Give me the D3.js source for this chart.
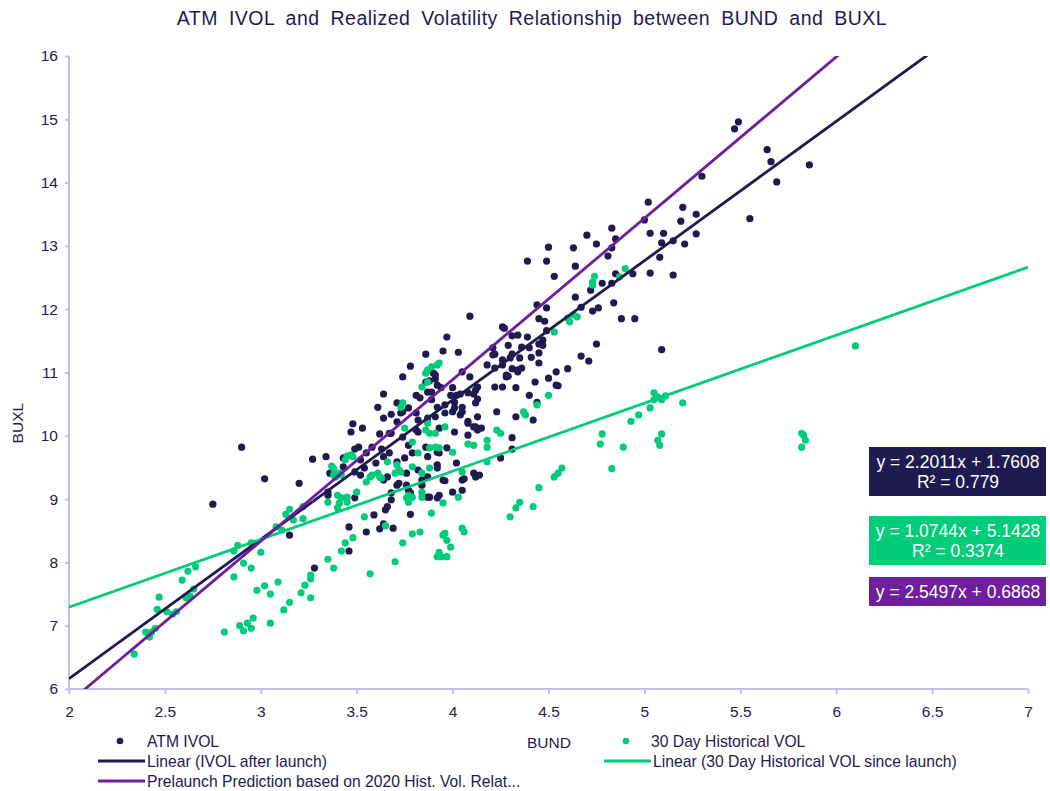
<!DOCTYPE html>
<html lang="en">
  <head>
    <meta charset="utf-8">
    <title>ATM IVOL and Realized Volatility Relationship between BUND and BUXL</title>
    <style>
      body { margin: 0; background: #fff; }
      text { font-family: "Liberation Sans", Arial, sans-serif; fill: #1f1a4f; }
      .axis path, .axis line { stroke: #c3bdf0; stroke-width: 2px; }
      .axis text { font-size: 15.5px; fill: #1f1a4f; }
    </style>
  </head>
  <body>
    <div class="chart" id="container"></div>

    <script src="https://cdn.jsdelivr.net/npm/d3@7/dist/d3.min.js"></script>
    <script type="text/javascript">
      // BUND vol (x) vs BUXL vol (y)
      var ivolPoints = [
        [2.90,9.82],[2.75,8.92],[3.02,9.32],[3.20,9.25],[3.27,9.63],[3.34,9.67],[3.15,8.43],[3.28,7.91],[3.36,9.41],[3.43,9.51],
        [3.48,10.19],[3.47,10.06],[3.53,10.12],[3.64,10.66],[3.61,10.45],[3.64,10.28],[3.68,10.34],[3.71,10.52],[3.71,10.22],[3.51,9.82],
        [3.49,9.79],[3.58,9.82],[3.63,9.79],[3.68,10.04],[3.52,9.62],[3.52,9.38],[3.66,9.35],[3.64,9.30],[3.71,9.22],[3.35,9.06],
        [3.49,9.02],[3.66,8.88],[3.68,9.10],[3.46,8.56],[3.46,8.18],[3.55,8.48],[3.59,8.75],[3.62,8.53],[3.64,8.61],[3.69,8.54],[3.78,8.76],
        [4.44,12.07],[4.49,12.02],[4.09,11.89],[4.45,11.85],[4.48,11.81],[4.26,11.72],[4.49,11.66],[4.34,11.59],[4.31,11.58],[4.39,11.56],
        [3.97,11.56],[4.21,11.39],[4.29,11.43],[4.45,11.45],[4.36,11.40],[4.31,11.29],[4.21,11.28],[4.03,11.32],[3.95,11.34],[3.86,11.29],
        [4.41,11.24],[4.35,11.23],[4.26,11.20],[4.26,11.12],[4.18,11.12],[4.45,11.15],[4.50,10.91],[4.43,10.85],[4.28,10.93],[4.22,11.07],
        [4.34,11.04],[4.31,11.06],[4.05,11.01],[4.09,10.93],[3.78,11.10],[3.74,10.93],[3.90,10.99],[3.91,10.90],[3.86,10.85],[3.94,10.76],
        [4.00,10.76],[4.02,10.64],[4.08,10.68],[4.12,10.72],[4.13,10.77],[4.22,10.77],[4.26,10.77],[4.33,10.76],[4.40,10.64],[4.44,10.53],
        [4.42,10.25],[4.33,10.30],[4.23,10.38],[4.13,10.30],[4.15,10.12],[4.13,10.09],[4.05,10.38],[4.01,10.44],[3.96,10.49],[3.92,10.45],
        [3.89,10.57],[3.83,10.60],[3.81,10.64],[3.73,10.36],[3.77,10.44],[3.82,10.25],[3.62,10.03],[3.67,10.04],[3.74,9.98],[3.82,10.06],
        [3.93,10.12],[4.01,10.06],[4.11,10.14],[4.08,10.01],[3.77,9.85],[3.86,9.82],[3.92,9.74],[3.93,9.73],[3.97,9.81],[4.25,9.65],
        [4.31,9.97],[3.79,9.73],[3.75,9.65],[3.87,9.67],[3.67,9.73],[3.64,9.67],[3.55,9.73],[3.43,9.65],[3.49,9.43],[3.54,9.49],
        [3.60,9.57],[3.71,9.59],[3.76,9.41],[3.82,9.46],[3.92,9.54],[4.02,9.57],[4.11,9.41],[4.12,9.35],[4.14,9.38],[4.05,9.30],
        [3.95,9.30],[3.84,9.30],[3.72,9.25],[3.76,9.22],[3.35,9.11],[3.78,9.10],[3.87,9.03],[3.92,9.02],[3.93,9.06],[4.00,9.11],
        [4.05,9.14],[3.68,8.99],[3.65,8.83],
        [4.08,10.20],[4.12,10.14],[4.31,9.79],[4.06,9.32],[3.96,9.29],[3.88,9.03],[3.84,9.22],[3.87,9.35],[3.92,9.49],[3.77,9.14],[3.81,10.09],
        [4.50,12.98],[4.39,12.76],[4.49,12.76],[4.53,12.52],[4.27,11.70],[4.22,11.29],[4.47,11.43],[4.45,11.31],[4.30,11.23],[4.40,11.39],
        [3.91,10.96],[3.92,10.80],[3.88,10.87],[3.87,10.69],[3.89,10.69],[4.04,10.66],[3.99,10.64],[4.01,10.53],[4.11,10.66],[4.29,10.94],
        [4.34,11.01],[4.36,11.07],[4.54,11.01],[4.54,10.80],[4.13,10.58],[4.08,10.23],[4.04,10.33],[4.00,10.38],[3.96,10.36],[3.91,10.30],
        [3.87,10.28],[3.81,10.36],[3.74,10.38],[4.05,10.45],[4.12,10.52],
        [5.49,14.96],[5.47,14.85],[5.64,14.52],[5.66,14.33],[5.69,14.01],[5.86,14.28],[5.55,13.43],[5.30,14.10],[5.02,13.69],[5.20,13.61],
        [5.19,13.39],[5.27,13.50],[5.00,13.41],[4.83,13.28],[4.85,13.11],[5.03,13.20],[5.10,13.20],[5.09,13.05],[5.15,13.08],[5.21,13.03],
        [5.27,13.19],[4.70,13.17],[4.75,13.03],[4.63,12.97],[4.83,12.97],[4.81,12.84],[4.64,12.68],[4.85,12.56],[4.94,12.56],[5.03,12.57],
        [5.08,12.82],[5.15,12.54],[4.78,12.41],[4.83,12.41],[4.72,12.30],[4.64,12.19],[4.67,12.03],[4.73,11.97],[4.76,12.02],[4.84,12.10],
        [4.88,11.85],[4.95,11.85],[5.09,11.36],[4.47,11.51],[4.75,11.45],[4.67,11.26],[4.71,11.18],[4.28,10.96],[4.60,11.06],[4.55,10.79]
      ];

      var histPoints = [
        [2.34,6.55],[2.40,6.90],[2.42,6.82],[2.45,6.96],[2.43,6.90],[2.46,7.26],[2.47,7.45],[2.51,7.22],[2.54,7.18],[2.56,7.22],
        [2.61,7.44],[2.63,7.47],[2.65,7.58],[2.59,7.72],[2.62,7.86],[2.66,7.93],[2.81,6.90],[2.86,7.77],[2.86,8.18],[2.88,8.27],
        [2.89,7.00],[2.91,6.92],[2.93,7.04],[2.95,6.96],[2.96,7.12],[2.95,7.91],[2.95,8.31],[3.00,8.16],[2.98,7.56],[3.02,7.63],
        [3.05,7.50],[3.05,7.04],[3.09,7.69],[3.12,7.25],[3.15,7.37],[3.08,8.56],[3.13,8.76],[3.15,8.84],[3.17,8.67],[3.22,8.88],
        [3.22,8.69],[3.21,7.52],[3.23,7.64],[3.26,7.80],[3.26,7.74],[3.26,7.44],[3.35,8.05],[3.38,7.91],[3.42,8.18],[3.44,8.31],
        [3.48,8.39],[3.50,9.11],[3.45,9.03],[3.40,8.86],[3.35,8.95],[3.45,8.95],[3.42,9.38],[3.38,9.48],[3.37,9.52],[3.45,9.68],
        [3.47,9.70],[3.44,9.62],[3.11,8.51],[2.91,7.99],[3.54,8.72],[3.57,7.82],[3.65,8.58],[3.70,8.01],[3.74,8.31],[3.79,8.45],
        [3.38,9.38],[3.41,9.41],[3.48,9.67],[3.61,9.41],[3.62,9.35],[3.58,9.38],[3.55,9.27],[3.66,9.59],[3.70,9.41],[3.71,9.54],
        [3.40,9.06],[3.41,8.94],
        [3.93,11.15],[3.92,11.12],[3.89,11.09],[3.87,11.04],[3.86,10.99],[3.87,10.85],[3.84,10.77],[3.74,10.52],[3.73,10.45],[3.75,10.12],
        [3.86,10.09],[3.88,10.04],[3.91,10.04],[3.96,10.14],[3.79,9.90],[3.88,9.81],[3.91,9.82],[3.93,9.81],[4.00,9.74],[4.08,9.87],
        [4.11,9.85],[4.18,9.93],[4.18,9.82],[4.23,10.09],[4.25,10.04],[4.37,10.38],[4.38,10.33],[4.44,10.49],[4.50,10.64],[3.39,9.35],
        [3.57,9.35],[3.63,9.33],[3.73,9.43],[3.79,9.51],[3.82,9.73],[3.84,9.41],[3.88,9.49],[4.05,9.43],[3.42,9.02],[3.76,9.02],
        [3.77,8.95],[3.79,9.03],[3.84,9.03],[3.95,8.94],[4.03,9.03],[3.89,8.78],[3.83,8.48],[3.96,8.46],[3.97,8.35],[3.99,8.24],
        [3.93,8.16],[3.92,8.09],[3.94,8.09],[3.97,8.09],[4.05,8.54],[4.06,8.48],[4.30,8.72],[4.33,8.86],[4.35,8.95],[4.42,8.88],
        [4.45,9.18],
        [4.57,9.49],[4.55,9.41],[4.53,9.35],[4.18,9.59],[3.72,9.46],[3.77,9.06],[3.84,9.11],[3.95,8.43],[3.87,10.20],[4.53,11.64],
        [4.90,12.64],[4.87,12.51],[4.74,12.52],[4.73,12.43],[4.73,12.38],[4.65,11.88],[4.61,11.80],[4.63,11.91],[4.60,11.86],[5.05,10.68],
        [5.07,10.61],[5.11,10.63],[5.05,10.57],[5.09,10.57],[5.20,10.52],[5.03,10.44],[4.97,10.33],[4.93,10.23],[4.78,10.03],[4.77,9.87],
        [4.89,9.82],[5.09,10.03],[5.07,9.93],[5.08,9.85],[5.82,10.04],[5.83,10.01],[5.84,9.93],[5.82,9.82],[6.10,11.42],[4.83,9.48]
      ];

      var seriesNames = ["ATM IVOL", "30 Day Historical VOL"];
      var trendNames = ["Linear (IVOL after launch)", "Linear (30 Day Historical VOL since launch)",
                        "Prelaunch Prediction based on 2020 Hist. Vol. Relat..."];
      var trendSlope = [2.2011, 1.0744, 2.5497];
      var trendIntercept = [1.7608, 5.1428, 0.6868];
      var trendLabels = [["y = 2.2011x + 1.7608", "R\u00b2 = 0.779"],
                         ["y = 1.0744x + 5.1428", "R\u00b2 = 0.3374"],
                         ["y = 2.5497x + 0.6868"]];
      var xTicks = [2, 2.5, 3, 3.5, 4, 4.5, 5, 5.5, 6, 6.5, 7];
      var yTicks = [6, 7, 8, 9, 10, 11, 12, 13, 14, 15, 16];

      var navy = "#1f1a4f", green = "#00cc7a", purple = "#6e1e9e";
      var trendColor = [navy, green, purple];

      var width = 1050, height = 791;
      var margin = {top: 56, right: 22, bottom: 102, left: 69};

      var svg = d3.select(".chart")
        .append("svg")
          .attr("width", width)
          .attr("height", height);

      var x = d3.scaleLinear().domain([2, 7]).range([margin.left, width - margin.right]);
      var y = d3.scaleLinear().domain([6, 16]).range([height - margin.bottom, margin.top]);

      svg.append("defs").append("clipPath").attr("id", "plot")
        .append("rect")
          .attr("x", x(2)).attr("y", y(16))
          .attr("width", x(7) - x(2)).attr("height", y(6) - y(16));

      svg.append("text")
        .attr("x", 532).attr("y", 25)
        .attr("text-anchor", "middle")
        .style("font-size", "19.5px")
        .style("letter-spacing", "0.5px")
        .style("word-spacing", "5px")
        .text("ATM IVOL and Realized Volatility Relationship between BUND and BUXL");

      svg.append("g")
        .attr("class", "axis")
        .attr("transform", "translate(0," + y(6) + ")")
        .call(d3.axisBottom(x).tickValues(xTicks).tickSize(5).tickPadding(12).tickFormat(d3.format("")));

      svg.append("g")
        .attr("class", "axis")
        .attr("transform", "translate(" + x(2) + ",0)")
        .call(d3.axisLeft(y).tickValues(yTicks).tickSize(4).tickPadding(7).tickFormat(d3.format("d")));

      svg.selectAll(".axis .domain").attr("d", function() {
        return d3.select(this.parentNode).attr("transform").indexOf("translate(0") === 0
          ? "M" + x(2) + ",0H" + x(7) : "M0," + y(6) + "V" + y(16);
      });

      svg.append("text")
        .attr("transform", "translate(23," + y(10.2) + ") rotate(-90)")
        .attr("text-anchor", "middle")
        .style("font-size", "15.5px")
        .text("BUXL");

      svg.append("text")
        .attr("x", 549).attr("y", 748)
        .attr("text-anchor", "middle")
        .style("font-size", "15.5px")
        .text("BUND");

      // scatter
      var dots = svg.append("g");
      dots.selectAll(".ivol").data(ivolPoints).enter().append("circle")
        .attr("class", "ivol")
        .attr("cx", function(d) { return x(d[0]); })
        .attr("cy", function(d) { return y(d[1]); })
        .attr("r", 3.6)
        .style("fill", navy);

      dots.selectAll(".hist").data(histPoints).enter().append("circle")
        .attr("class", "hist")
        .attr("cx", function(d) { return x(d[0]); })
        .attr("cy", function(d) { return y(d[1]); })
        .attr("r", 3.6)
        .style("fill", green);

      // trend lines
      var lines = svg.append("g").attr("clip-path", "url(#plot)");
      trendSlope.forEach(function(m, i) {
        var b = trendIntercept[i];
        lines.append("line")
          .attr("x1", x(2)).attr("y1", y(m * 2 + b))
          .attr("x2", x(7)).attr("y2", y(m * 7 + b))
          .style("stroke", trendColor[i])
          .style("stroke-width", 2.8);
      });

      // equation boxes
      var boxTop = [447, 516, 577];
      trendLabels.forEach(function(lbl, i) {
        var h = lbl.length * 20 + 9;
        var g = svg.append("g").attr("transform", "translate(869," + boxTop[i] + ")");
        g.append("rect").attr("width", 177).attr("height", h).style("fill", trendColor[i]);
        lbl.forEach(function(t, j) {
          g.append("text")
            .attr("x", 89).attr("y", 21 + j * 20)
            .attr("text-anchor", "middle")
            .style("font-size", "17.5px")
            .style("fill", "#fff")
            .text(t);
        });
      });

      // legend
      var legend = svg.append("g");
      var legendDots = [[120, 741, navy, 147, seriesNames[0]], [626, 741, green, 651, seriesNames[1]]];
      legendDots.forEach(function(l) {
        legend.append("circle").attr("cx", l[0]).attr("cy", l[1]).attr("r", 3.3).style("fill", l[2]);
        legend.append("text").attr("x", l[3]).attr("y", l[1] + 6).style("font-size", "15.7px").text(l[4]);
      });
      var legendLines = [[98, 761], [604, 761], [98, 781]];
      legendLines.forEach(function(l, i) {
        legend.append("line")
          .attr("x1", l[0]).attr("x2", l[0] + 47)
          .attr("y1", l[1]).attr("y2", l[1])
          .style("stroke", trendColor[i]).style("stroke-width", 3);
        legend.append("text").attr("x", l[0] + 49).attr("y", l[1] + 6)
          .style("font-size", "15.7px").text(trendNames[i]);
      });
    </script>
  </body>
</html>
